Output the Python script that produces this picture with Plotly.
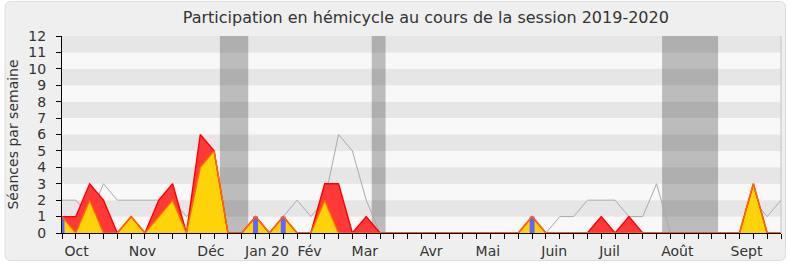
import plotly.graph_objects as go

# Weekly data (index 0 = first week of the session)
presence = [1, 1, 3, 2, 0, 1, 0, 2, 3, 0, 6, 5, 0, 0, 1, 0, 1, 0, 0, 3, 3, 0, 1, 0,
            0, 0, 0, 0, 0, 0, 0, 0, 0, 0, 1, 0, 0, 0, 0, 1, 0, 1, 0, 0, 0, 0, 0, 0,
            0, 0, 3, 0, 0]
interventions = [1, 0, 2, 0, 0, 1, 0, 1, 2, 0, 4, 5, 0, 0, 1, 0, 1, 0, 0, 2, 0, 0, 0, 0,
                 0, 0, 0, 0, 0, 0, 0, 0, 0, 0, 1, 0, 0, 0, 0, 0, 0, 0, 0, 0, 0, 0, 0, 0,
                 0, 0, 3, 0, 0]
mediane = [2, 2, 1, 3, 2, 2, 2, 2, 2, 1, 2, 2, 0, 0, 0, 0, 1, 2, 1, 2, 6, 5, 2, 0,
           0, 0, 0, 0, 0, 0, 0, 0, 0, 0, 0, 0, 1, 1, 2, 2, 2, 1, 1, 3, 0, 0, 0, 0,
           0, 0, 2, 1, 2]
questions = [1, 0, 0, 0, 0, 0, 0, 0, 0, 0, 0, 0, 0, 0, 1, 0, 1, 0, 0, 0, 0, 0, 0, 0,
             0, 0, 0, 0, 0, 0, 0, 0, 0, 0, 1, 0, 0, 0, 0, 0, 0, 0, 0, 0, 0, 0, 0, 0,
             0, 0, 0, 0, 0]
weeks = list(range(len(presence)))

month_labels = ["Oct", "Nov", "Déc", "Jan 20", "Fév", "Mar", "Avr", "Mai",
                "Juin", "Juil", "Août", "Sept"]
month_pos = [1.05, 5.82, 10.77, 14.82, 17.9, 21.9, 26.7, 30.8, 35.6, 39.6, 44.5, 49.5]

vacances_debut = [11.42, 22.4, 43.4]
vacances_fin = [13.47, 23.4, 47.45]

y_max = 12
FONT = "DejaVu Sans"
TXT = "#333333"

fig = go.Figure()

fig.add_trace(go.Scatter(x=weeks, y=mediane, mode="lines",
                         line=dict(color="#aaaaaa", width=1), hoverinfo="skip"))
fig.add_trace(go.Scatter(x=weeks, y=presence, mode="lines", fill="tozeroy",
                         fillcolor="#ff3838", line=dict(width=0), hoverinfo="skip"))
fig.add_trace(go.Scatter(x=weeks, y=interventions, mode="lines", fill="tozeroy",
                         fillcolor="#ffd30a", line=dict(width=0), hoverinfo="skip"))

qx, qy = [], []
for w, q in zip(weeks, questions):
    if q:
        qx += [w, w, None]
        qy += [0, q, None]
fig.add_trace(go.Scatter(x=qx, y=qy, mode="lines",
                         line=dict(color="#6464ff", width=5), hoverinfo="skip"))

fig.add_trace(go.Scatter(x=weeks, y=presence, mode="lines",
                         line=dict(color="#ff0000", width=1.4), hoverinfo="skip"))
fig.add_trace(go.Scatter(x=weeks, y=interventions, mode="lines",
                         line=dict(color="#ff6a00", width=1.4), hoverinfo="skip"))

# Frame (rounded rectangle) in paper coordinates
L, R, T, B = 62, 9, 36, 34
W, H = 790, 267
pw, ph = W - L - R, H - T - B
def px(x):
    return (x - L) / pw
def py(y):
    return (H - B - y) / ph
x0, x1, y0, y1 = px(5), px(785.5), py(260.5), py(1.5)
rx, ry = 6 / pw, 6 / ph
path = (f"M {x0+rx},{y1} L {x1-rx},{y1} Q {x1},{y1} {x1},{y1-ry} "
        f"L {x1},{y0+ry} Q {x1},{y0} {x1-rx},{y0} L {x0+rx},{y0} "
        f"Q {x0},{y0} {x0},{y0+ry} L {x0},{y1-ry} Q {x0},{y1} {x0+rx},{y1} Z")
shapes = [dict(type="path", xref="paper", yref="paper", path=path,
               fillcolor="#efefef", line=dict(color="#dddddd", width=1), layer="below")]

for k in range(y_max):
    shapes.append(dict(type="rect", xref="paper", yref="y", x0=0, x1=1, y0=k, y1=k + 1,
                       fillcolor="#e6e6e6" if k % 2 == 1 else "#f8f8f8",
                       line=dict(width=0), layer="below"))
for a, b in zip(vacances_debut, vacances_fin):
    shapes.append(dict(type="rect", xref="x", yref="y", x0=a, x1=b, y0=0, y1=y_max,
                       fillcolor="rgba(0,0,0,0.24)", line=dict(width=0), layer="below"))
shapes.append(dict(type="line", xref="paper", yref="paper", x0=1, x1=1, y0=0, y1=1,
                   line=dict(color="#c4c4c4", width=1)))

fig.update_layout(
    width=W, height=H,
    margin=dict(l=L, r=R, t=T, b=B),
    paper_bgcolor="#ffffff", plot_bgcolor="#f8f8f8",
    showlegend=False,
    font=dict(family=FONT, size=14, color=TXT),
    title=dict(text="Participation en hémicycle au cours de la session 2019-2020",
               x=0.506, xref="paper", xanchor="center",
               y=1 - 17.5 / H, yref="container", yanchor="middle",
               font=dict(family=FONT, size=16, color=TXT)),
    shapes=shapes,
    xaxis=dict(range=[0, len(weeks) - 1], tickmode="array", tickvals=month_pos,
               ticktext=month_labels, ticks="", showgrid=False, zeroline=False,
               showline=True, linecolor="#000000", linewidth=1,
               ticklabelstandoff=5,
               tickfont=dict(family=FONT, size=14, color=TXT),
               minor=dict(tickmode="linear", tick0=0, dtick=1, ticks="outside",
                          ticklen=5, tickcolor="#000000", tickwidth=1, showgrid=False)),
    yaxis=dict(range=[0, y_max], tickmode="linear", tick0=0, dtick=1,
               ticks="outside", ticklen=5, tickcolor="#000000",
               showgrid=False, zeroline=False, showline=True,
               linecolor="#000000", linewidth=1, ticklabelstandoff=7,
               tickfont=dict(family=FONT, size=14, color=TXT),
               title=dict(text="Séances par semaine", standoff=6,
                          font=dict(family=FONT, size=14, color=TXT))),
)

fig.write_html("out.html")
